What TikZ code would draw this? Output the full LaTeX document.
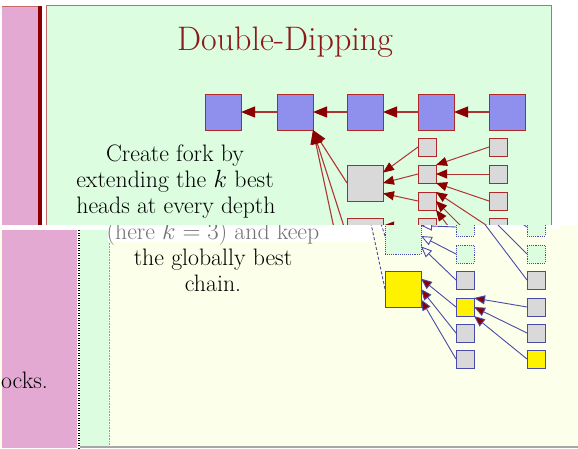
\documentclass[tikz,border=0pt]{standalone}
\usetikzlibrary{arrows.meta}
\definecolor{pinkbar}{HTML}{E3A9D3}
\definecolor{darkred}{HTML}{8B0000}
\definecolor{mint}{HTML}{DCFDE0}
\definecolor{cream}{HTML}{FCFFE9}
\definecolor{bluesqc}{HTML}{8F8FEE}
\definecolor{graysqc}{HTML}{D9D9D9}
\definecolor{redline}{HTML}{B03434}
\definecolor{sqborder}{HTML}{B02828}
\definecolor{blueline}{HTML}{4A4AAA}
\definecolor{titlered}{HTML}{8B1A1A}
\definecolor{panelborder}{HTML}{C86A6A}

\newcommand\forktree[1]{%
\node[bigsq,bluefill] (#1b1) at (223,112) {};
\node[bigsq,bluefill] (#1b2) at (295,112) {};
\node[bigsq,bluefill] (#1b3) at (365,112) {};
\node[bigsq,bluefill] (#1b4) at (436,112) {};
\node[bigsq,bluefill] (#1b5) at (507,112) {};
\node[bigsq,grayfill] (#1f1) at (365,183) {};
\node[bigsq,fadefill] (#1f2) at (365,236) {};
\node[bigsq,yelfill] (#1f3) at (365,289) {};
\node[smallsq,grayfill] (#1p1) at (427,147) {};
\node[smallsq,grayfill] (#1p2) at (427,174) {};
\node[smallsq,grayfill] (#1p3) at (427,201) {};
\node[smallsq,fadefill] (#1p4) at (427,227) {};
\node[smallsq,fadefill] (#1p5) at (427,254) {};
\node[smallsq,grayfill] (#1p6) at (427,280) {};
\node[smallsq,yelfill] (#1p7) at (427,307) {};
\node[smallsq,grayfill] (#1p8) at (427,333) {};
\node[smallsq,grayfill] (#1p9) at (427,359) {};
\node[smallsq,grayfill] (#1q1) at (498,147) {};
\node[smallsq,grayfill] (#1q2) at (498,174) {};
\node[smallsq,grayfill] (#1q3) at (498,201) {};
\node[smallsq,fadefill] (#1q4) at (498,227) {};
\node[smallsq,fadefill] (#1q5) at (498,254) {};
\node[smallsq,grayfill] (#1q6) at (498,280) {};
\node[smallsq,grayfill] (#1q7) at (498,307) {};
\node[smallsq,grayfill] (#1q8) at (498,333) {};
\node[smallsq,yelfill] (#1q9) at (498,359) {};
\draw[bigedge] (#1b2.west) -- (#1b1.east);
\draw[bigedge] (#1b3.west) -- (#1b2.east);
\draw[bigedge] (#1b4.west) -- (#1b3.east);
\draw[bigedge] (#1b5.west) -- (#1b4.east);
\draw[bigedge] (#1f1.west) -- (#1b2.south east);
\draw[bigedge] (#1f2.west) -- (#1b2.south east);
\draw[bigedge] (#1f3.west) -- (#1b2.south east);
\draw[edge] (#1p1.west) -- (#1f1.30);
\draw[edge] (#1p2.west) -- (#1f1.east);
\draw[edge] (#1p3.west) -- (#1f1.-30);
\draw[hedge] (#1p4.west) -- (#1f2.30);
\draw[hedge] (#1p5.west) -- (#1f2.east);
\draw[hedge] (#1p6.west) -- (#1f2.-30);
\draw[edge] (#1p7.west) -- (#1f3.30);
\draw[edge] (#1p8.west) -- (#1f3.east);
\draw[edge] (#1p9.west) -- (#1f3.-30);
\draw[edge] (#1q1.west) -- (#1p2.north east);
\draw[edge] (#1q2.west) -- (#1p2.east);
\draw[edge] (#1q3.west) -- (#1p2.south east);
\draw[edge] (#1q4.west) -- (#1p3.north east);
\draw[edge] (#1q5.west) -- (#1p3.east);
\draw[edge] (#1q6.west) -- (#1p3.south east);
\draw[edge] (#1q7.west) -- (#1p7.north east);
\draw[edge] (#1q8.west) -- (#1p7.east);
\draw[edge] (#1q9.west) -- (#1p7.south east);
}

\begin{document}
\begin{tikzpicture}[x=1pt,y=-1pt,
  sqbase/.style={draw=sqborder,line width=0.9pt,inner sep=0pt,outer sep=0pt},
  bigsq/.style={sqbase,minimum size=36pt},
  smallsq/.style={sqbase,minimum size=18pt},
  bluefill/.style={fill=bluesqc},
  grayfill/.style={fill=graysqc},
  yelfill/.style={fill=yellow},
  fadefill/.style={fill=graysqc},
  edge/.style={draw=redline,line width=1pt,-{Triangle[length=11pt,width=9pt,color=darkred]}},
  hedge/.style={edge},
  bigedge/.style={draw=redline,line width=1.1pt,-{Triangle[length=14pt,width=11pt,color=darkred]}},
  bodytext/.style={font=\fontsize{23.8}{27}\selectfont,text=black,inner sep=0pt}]
\useasboundingbox (0,0) rectangle (578,448);
% ---------- upper band ----------
\begin{scope}
\clip (0,0) rectangle (578,225);
\fill[white] (0,0) rectangle (578,225);
\fill[pinkbar] (2,6) rectangle (38,225);
\draw[panelborder,line width=0.8pt] (2,6.4) -- (38,6.4);
\fill[darkred] (38,6) rectangle (41.5,225);
\filldraw[fill=mint,draw=panelborder,line width=0.8pt] (46,5.5) rectangle (551,260);
\node[anchor=base,text=titlered,font=\fontsize{34}{40}\selectfont,inner sep=0pt] (title) at (285,50) {Double-Dipping};
\node[bodytext,anchor=base] (line1) at (175,161) {Create fork by};
\node[bodytext,anchor=base] (line2) at (175,187) {extending the $k$ best};
\node[bodytext,anchor=base] (line3) at (176,213) {heads at every depth};
\forktree{t}
\end{scope}
% ---------- lower (displaced) band ----------
\begin{scope}
\clip (0,225) rectangle (578,448);
\fill[cream] (0,225) rectangle (578,448);
\fill[pinkbar] (2,225) rectangle (77,448);
\draw[black,line width=2pt,dash pattern=on 1pt off 1.5pt] (79,225) -- (79,448);
\fill[mint] (80,225) rectangle (109,446);
\draw[red!55,densely dotted,line width=0.6pt] (109.5,225) -- (109.5,446);
\fill[black!35] (80,446) rectangle (578,448);
\fill[white] (0,225) rectangle (560,230);
\fill[white] (108,225) rectangle (372,242);
\node[bodytext,anchor=base west] (blocks) at (1,388) {ocks.};
\begin{scope}[xshift=38pt,
  sqbase/.style={draw=blueline,line width=0.9pt,inner sep=0pt,outer sep=0pt},
  fadefill/.style={fill=mint,densely dotted},
  edge/.style={draw=blueline,line width=0.9pt,-{Triangle[length=11pt,width=9pt,fill=darkred]}},
  hedge/.style={draw=blueline,line width=0.9pt,-{Triangle[length=11pt,width=9pt,fill=white]}},
  bigedge/.style={draw=blueline,densely dashed,line width=0.9pt,-{Triangle[length=13pt,width=10pt,fill=darkred]}}]
\node[bodytext,anchor=base,text=black!55] (line4) at (175,239) {(here $k = 3$) and keep};
\node[bodytext,anchor=base] (line5) at (175,265) {the globally best};
\node[bodytext,anchor=base] (line6) at (175,291) {chain.};
\forktree{l}
\end{scope}
\end{scope}
\end{tikzpicture}
\end{document}
